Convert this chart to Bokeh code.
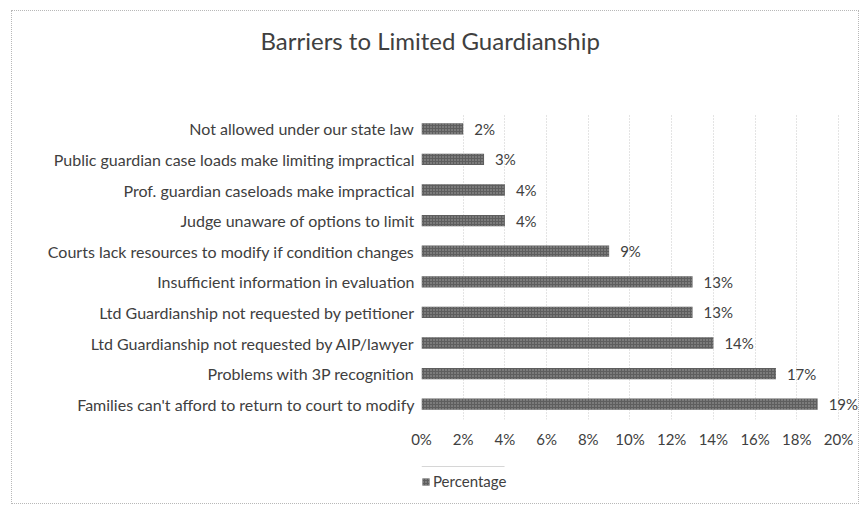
from bokeh.plotting import figure
from bokeh.layouts import column
from bokeh.models import (ColumnDataSource, Legend, LegendItem, Title, NumeralTickFormatter,
                          FixedTicker, Range1d, LabelSet)
from bokeh.core.properties import value
from bokeh.embed import file_html
from bokeh.resources import INLINE

categories = [
    "Not allowed under our state law",
    "Public guardian case loads make limiting impractical",
    "Prof. guardian caseloads make impractical",
    "Judge unaware of options to limit",
    "Courts lack resources to modify if condition changes",
    "Insufficient information in evaluation",
    "Ltd Guardianship not requested by petitioner",
    "Ltd Guardianship not requested by AIP/lawyer",
    "Problems with 3P recognition",
    "Families can't afford to return to court to modify",
]
percentages = [0.02, 0.03, 0.04, 0.04, 0.09, 0.13, 0.13, 0.14, 0.17, 0.19]
tick_values = [0, 0.02, 0.04, 0.06, 0.08, 0.10, 0.12, 0.14, 0.16, 0.18, 0.20]
series_name = "Percentage"
chart_title = "Barriers to Limited Guardianship"

labels = [f"{round(v * 100)}%" for v in percentages]
source = ColumnDataSource(dict(cat=categories, val=percentages, lab=labels))

FONT = "Lato"
TXT = "#404040"
BAR = dict(fill_color="#5e5e5e", line_color=None,
           hatch_pattern="dot", hatch_color="#a8a8a8", hatch_scale=3, hatch_weight=1)
W = 846


def blank(h):
    f = figure(width=W, height=h, x_range=Range1d(0, 1), y_range=Range1d(0, 1),
               output_backend="svg", toolbar_location=None,
               x_axis_location=None, y_axis_location=None, min_border=0)
    f.grid.visible = False
    f.outline_line_color = None
    return f


# --- title strip (its frame is aligned with the main chart's frame) ---
p0 = blank(102)
p0.add_layout(Title(text=chart_title, align="left", offset=-161, vertical_align="top",
                    text_font=FONT, text_font_size="24px", text_font_style="normal",
                    text_color=TXT, standoff=28), "above")

# --- main chart ---
p = figure(
    y_range=list(reversed(categories)),
    x_range=Range1d(0, 0.2096),
    width=W, height=353,
    output_backend="svg", toolbar_location=None,
    min_border_left=409, min_border_right=0,
    min_border_top=0, min_border_bottom=47,
)
p.outline_line_color = None

r = p.hbar(y="cat", right="val", left=0, height=0.37, source=source, **BAR)

p.add_layout(LabelSet(x="val", y="cat", text="lab", source=source, x_offset=11,
                      text_baseline="middle", text_align="left",
                      text_font=value(FONT), text_font_size="15px", text_color=TXT))

p.xaxis.ticker = FixedTicker(ticks=tick_values)
p.xaxis.formatter = NumeralTickFormatter(format="0%")
p.xaxis.axis_line_color = None
p.xaxis.major_tick_line_color = None
p.xaxis.minor_tick_line_color = None
p.xaxis.major_label_text_font = FONT
p.xaxis.major_label_text_font_size = "15px"
p.xaxis.major_label_text_color = TXT
p.xaxis.major_label_standoff = 4

p.yaxis.axis_line_color = None
p.yaxis.major_tick_line_color = None
p.yaxis.major_label_text_font = FONT
p.yaxis.major_label_text_font_size = "16px"
p.yaxis.major_label_text_color = TXT
p.yaxis.major_label_standoff = 1

p.xgrid.ticker = FixedTicker(ticks=tick_values)
p.xgrid.grid_line_color = "#c8c8c8"
p.xgrid.grid_line_dash = "1 2"
p.ygrid.grid_line_color = None

# --- legend strip: a proxy bar lying far outside the strip's visible range ---
p2 = blank(37)
r2 = p2.hbar(y=[50], right=[percentages[-1]], left=0, height=0.5, **BAR)
p2.add_layout(Legend(items=[LegendItem(label=series_name, renderers=[r2])],
                     location=(0, 13), orientation="horizontal",
                     border_line_color=None, background_fill_alpha=0,
                     padding=0, margin=0, spacing=0,
                     glyph_width=9, glyph_height=9, label_height=16,
                     label_text_font=FONT, label_text_font_size="15px",
                     label_text_color=TXT, label_standoff=3))

layout = column(p0, p, p2, spacing=0, margin=(10, 0, 0, 11),
                styles={"border": "1px dotted #b8b8b8"})

open("out.html", "w").write(file_html(layout, INLINE))
